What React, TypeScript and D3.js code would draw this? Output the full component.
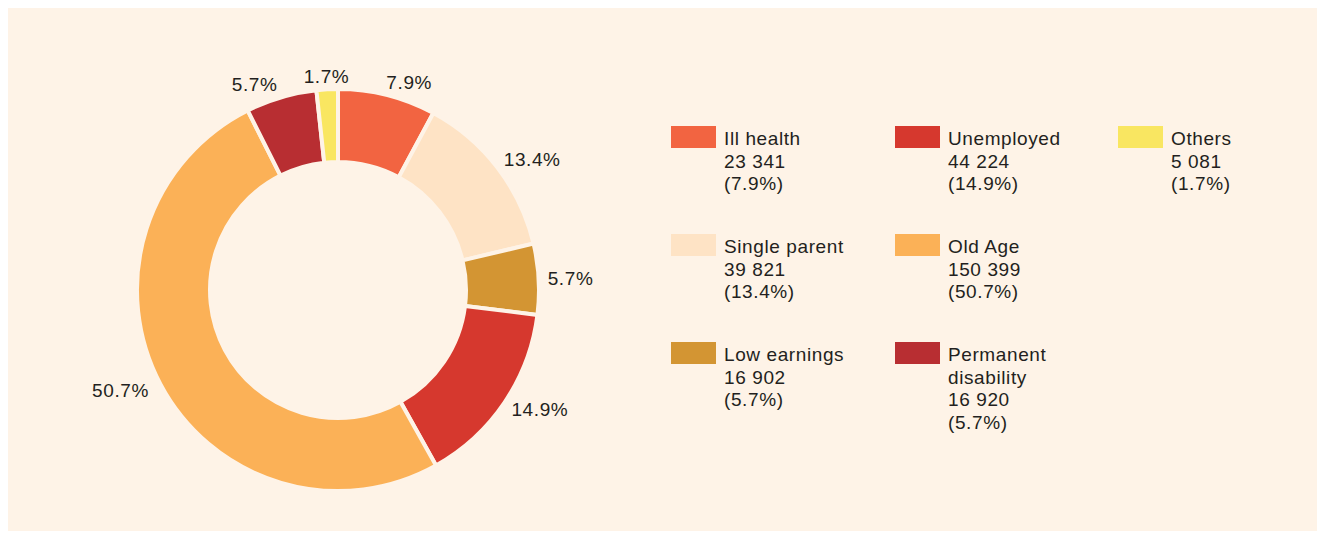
import React from "react";
import * as d3 from "d3";

const categories = ["Ill health", "Single parent", "Low earnings", "Unemployed", "Old Age", "Permanent disability", "Others"];
const legendLines = [["Ill health"], ["Single parent"], ["Low earnings"], ["Unemployed"], ["Old Age"], ["Permanent", "disability"], ["Others"]];
const values = [23341, 39821, 16902, 44224, 150399, 16920, 5081];
const valueLabels = ["23 341", "39 821", "16 902", "44 224", "150 399", "16 920", "5 081"];
const pctLabels = ["7.9%", "13.4%", "5.7%", "14.9%", "50.7%", "5.7%", "1.7%"];
const colors = ["#F26441", "#FEE3C5", "#D39533", "#D6382E", "#FBB157", "#B82E32", "#F9E661"];

const W = 1309;
const H = 523;
const BG = "#FEF3E7";
const FONT = "'Liberation Sans', Arial, Helvetica, sans-serif";

export default function App() {
  const cx = 330, cy = 282;
  const outerR = 201, innerR = 128;
  const pie = d3.pie<number>().sort(null).value((d) => d);
  const arcs = pie(values);
  const arc = d3.arc<d3.PieArcDatum<number>>().innerRadius(innerR).outerRadius(outerR);
  const labelR = 214;

  const colX = [663, 887, 1110];
  const rowY = [118, 226, 334];
  const lineH = 22.5;

  return (
    <svg width={W} height={H} style={{ display: "block" }} fontFamily={FONT}>
      <rect x={0} y={0} width={W} height={H} fill={BG} />
      <g transform={`translate(${cx},${cy})`}>
        {arcs.map((a, i) => (
          <path key={i} d={arc(a) || ""} fill={colors[i]} stroke={BG} strokeWidth={4} strokeLinejoin="miter" />
        ))}
        {arcs.map((a, i) => {
          const mid = (a.startAngle + a.endAngle) / 2;
          const s = Math.sin(mid), c = Math.cos(mid);
          const anchor = s > 0.15 ? "start" : s < -0.15 ? "end" : "middle";
          const x = labelR * s + (anchor === "start" ? -4 : 0);
          const y = -labelR * c;
          return (
            <text key={i} x={x} y={y} dy="0.35em" textAnchor={anchor} fontSize={19} letterSpacing={0.6} fill="#231F20">
              {pctLabels[i]}
            </text>
          );
        })}
      </g>
      <g>
        {categories.map((cat, i) => {
          const col = Math.floor(i / 3);
          const row = i % 3;
          const x = colX[col];
          const y = rowY[row];
          const lines = [...legendLines[i], valueLabels[i], `(${pctLabels[i]})`];
          return (
            <g key={cat}>
              <rect x={x} y={y} width={45} height={22} fill={colors[i]} />
              {lines.map((ln, j) => (
                <text key={j} x={x + 53} y={y + 19 + j * lineH} fontSize={19} letterSpacing={0.6} fill="#231F20">
                  {ln}
                </text>
              ))}
            </g>
          );
        })}
      </g>
    </svg>
  );
}
